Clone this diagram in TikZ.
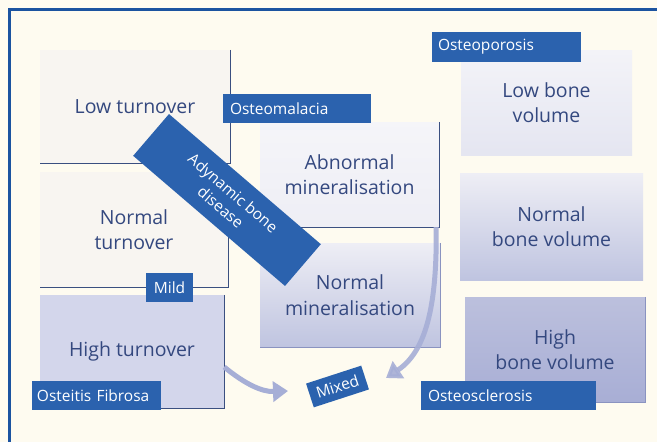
\documentclass[tikz,border=0pt]{standalone}
\usepackage{fontspec}
\setmainfont{Open Sans}
\usetikzlibrary{arrows.meta}
\definecolor{bgc}{HTML}{FEFBF0}
\definecolor{framec}{HTML}{1B53A0}
\definecolor{labc}{HTML}{2B62AE}
\definecolor{txtc}{HTML}{34487F}
\definecolor{edgec}{HTML}{3A4F80}
\definecolor{edgel}{HTML}{8A93C0}
\definecolor{arrc}{HTML}{A6AED6}
\definecolor{pale}{HTML}{F8F5F1}
\definecolor{lav}{HTML}{D3D6EB}
\definecolor{lavtop}{HTML}{EEEEF5}
\definecolor{lavbot}{HTML}{BFC4E0}
\definecolor{darktop}{HTML}{BCC0DD}
\definecolor{darkbot}{HTML}{A8AED5}
\tikzset{
  box/.style={rectangle, inner sep=0pt, draw=none, text=txtc, align=center,
    font=\fontsize{19.5}{25.5}\selectfont},
  lab/.style={rectangle, inner sep=0pt, fill=labc, text=white, align=left,
    font=\fontsize{15.5}{18}\selectfont},
  edge/.style={edgec, line width=1.4pt},
  edgesoft/.style={edgel, line width=1.2pt},
  bigarrow/.style={arrc, line width=5pt, -{Triangle[width=20pt,length=15pt]}}
}
\begin{document}
\begin{tikzpicture}[x=1pt,y=-1pt]
\useasboundingbox (0,0) rectangle (657,442);
\fill[bgc] (0,0) rectangle (657,442);
\draw[framec, line width=3pt] (9,450) -- (9,9) -- (665,9);

% left column
\node[box, fill=pale, minimum width=190pt, minimum height=113pt] (low) at (135,106.5) {Low turnover};
\node[box, fill=pale, minimum width=188pt, minimum height=115pt] (normt) at (134,229.5) {Normal\\turnover};
\node[box, fill=lav, minimum width=184pt, minimum height=113pt] (hight) at (132,351.5) {High turnover};
\draw[edge] (low.north east) -- (low.south east) -- (low.south west);
\draw[edge] (normt.north east) -- (normt.south east) -- (normt.south west);
\draw[edge] (hight.north east) -- (hight.south east) -- (hight.south west);

% middle column
\node[box, top color=lavtop!60!white, bottom color=lavtop, minimum width=179pt, minimum height=105pt] (abn) at (349.5,174.5) {Abnormal\\mineralisation};
\node[box, top color=lavtop, bottom color=lavbot, minimum width=180pt, minimum height=104pt] (nmin) at (350,295) {Normal\\mineralisation};
\draw[edge] (abn.north east) -- (abn.south east) -- (abn.south west);
\draw[edgesoft] (nmin.north east) -- (nmin.south east) -- (nmin.south west);

% right column
\node[box, top color=lavtop!70!white, bottom color=lavtop!80!lavbot, minimum width=171pt, minimum height=105pt] (lbv) at (546.5,102.5) {Low bone\\volume};
\node[box, top color=lavtop, bottom color=lavbot, minimum width=183pt, minimum height=107pt] (nbv) at (551.5,226.5) {Normal\\bone volume};
\node[box, top color=darktop, bottom color=darkbot, minimum width=180pt, minimum height=105pt] (hbv) at (555,349.5) {High\\bone volume};
\draw[edgesoft] (hbv.north east) -- (hbv.south east) -- (hbv.south west);

% arrows
\coordinate (m1) at (288,391);
\coordinate (m2) at (386,378);
\draw[bigarrow] ([yshift=-15.5pt]hight.east) .. controls (245,384) and (262,392) .. (m1);
\draw[bigarrow, opacity=0.9] ([xshift=-3pt]abn.south east) .. controls (437,300) and (428,350) .. (m2);

% labels
\node[lab, minimum width=148pt, minimum height=29pt, text width=134pt] (osteomal) at (297,108.5) {Osteomalacia};
\node[lab, minimum width=149pt, minimum height=30pt, text width=137pt] (osteopor) at (506.5,47) {Osteoporosis};
\node[lab, minimum width=47pt, minimum height=29pt, align=center] (mild) at (169.5,287.5) {Mild};
\node[lab, minimum width=129pt, minimum height=29pt, text width=119pt] (osteitis) at (96.5,395.5) {Osteitis Fibrosa};
\node[lab, minimum width=175pt, minimum height=29pt, text width=161pt] (osteoscl) at (508.5,395.5) {Osteosclerosis};
\node[lab, minimum width=58pt, minimum height=25pt, align=center, rotate=18] (mixed) at (337.5,386.5) {Mixed};
\node[lab, minimum width=200pt, minimum height=55pt, align=center, rotate=-40.6,
  font=\fontsize{15.5}{19}\selectfont] (adyn) at (227,200) {Adynamic bone\\disease};
\end{tikzpicture}
\end{document}
